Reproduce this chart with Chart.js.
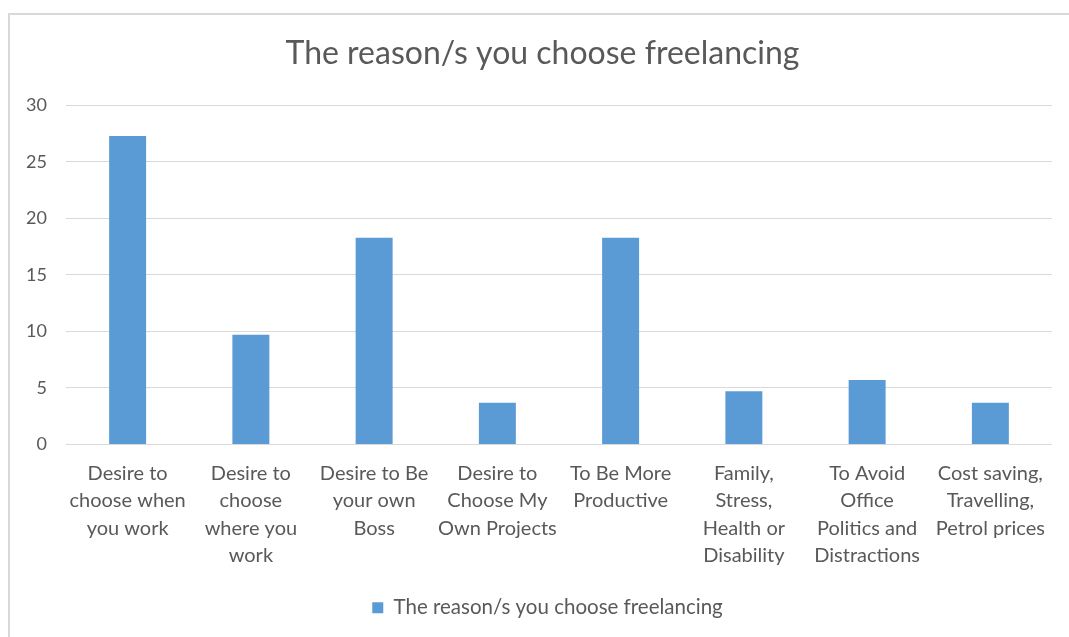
<!DOCTYPE html>
<html lang="en">
<head>
  <meta charset="UTF-8" />
  <title>The reason/s you choose freelancing</title>
  <script src="https://cdn.jsdelivr.net/npm/chart.js"></script>
  <style>
    html, body { margin: 0; padding: 0; background: #fff; overflow: hidden; }
    #frame {
      position: absolute; left: 8px; top: 13px;
      width: 1100px; height: 700px;
      border: 2px solid #d9d9d9;
    }
    #wrap { position: absolute; left: 0; top: 0; width: 1069px; height: 637px; }
  </style>
</head>
<body>
  <div id="frame"></div>
  <div id="wrap"><canvas id="graphique" width="1069" height="637"></canvas></div>

  <script>
    const titre = "The reason/s you choose freelancing";
    const serieNom = "The reason/s you choose freelancing";

    // each category split into the lines shown under the axis
    const categories = [
      ["Desire to", "choose when", "you work"],
      ["Desire to", "choose", "where you", "work"],
      ["Desire to Be", "your own", "Boss"],
      ["Desire to", "Choose My", "Own Projects"],
      ["To Be More", "Productive"],
      ["Family,", "Stress,", "Health or", "Disability"],
      ["To Avoid", "Office", "Politics and", "Distractions"],
      ["Cost saving,", "Travelling,", "Petrol prices"]
    ];
    const valeurs = [27.3, 9.7, 18.3, 3.7, 18.3, 4.7, 5.7, 3.7];
    const yMin = 0, yMax = 30, yPas = 5;

    const bleu = "#5b9bd5";
    const gris = "#595959";
    const grille = "#d9d9d9";
    const police = "Lato, 'Open Sans', sans-serif";

    // title and legend sit a little right of the plot's centre
    const decalage = {
      id: "decalage",
      afterLayout(chart) {
        chart.titleBlock.right += 33;
        chart.legend.right += 43;
      }
    };

    const ctx = document.getElementById("graphique").getContext("2d");
    new Chart(ctx, {
      type: "bar",
      data: {
        labels: categories,
        datasets: [{
          label: serieNom,
          data: valeurs,
          backgroundColor: bleu,
          borderWidth: 0,
          categoryPercentage: 1,
          barPercentage: 0.3
        }]
      },
      options: {
        responsive: false,
        animation: false,
        layout: { padding: { left: 0, right: 17, top: 0, bottom: 9 } },
        plugins: {
          title: {
            display: true,
            text: titre,
            color: gris,
            font: { family: police, size: 32, weight: "normal" },
            padding: { top: 34, bottom: 33 }
          },
          legend: {
            position: "bottom",
            labels: {
              color: gris,
              font: { family: police, size: 20.5 },
              boxWidth: 11,
              boxHeight: 11,
              padding: 10
            }
          },
          tooltip: { enabled: false }
        },
        scales: {
          x: {
            grid: { display: false },
            border: { display: false },
            ticks: {
              color: gris,
              font: { family: police, size: 20, lineHeight: 1.375 },
              padding: 7,
              maxRotation: 0,
              autoSkip: false
            },
            afterFit: s => { s.height = 143; }
          },
          y: {
            min: yMin,
            max: yMax,
            grid: { color: grille, lineWidth: 1, drawTicks: false },
            border: { display: false },
            ticks: {
              stepSize: yPas,
              color: gris,
              font: { family: police, size: 18 },
              padding: 19
            },
            afterFit: s => { s.width = 66; }
          }
        }
      },
      plugins: [decalage]
    });
  </script>
</body>
</html>
